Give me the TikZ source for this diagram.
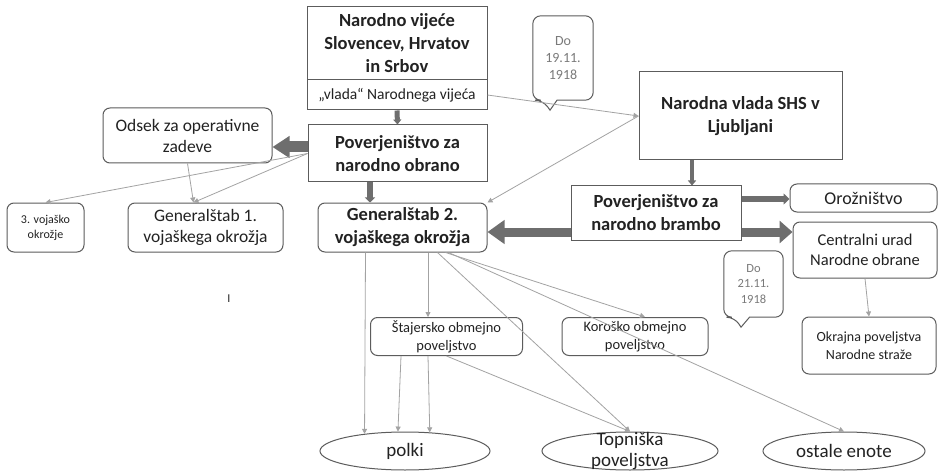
\documentclass[tikz,border=0pt]{standalone}
\usepackage{fontspec}
\setmainfont{Carlito}
\usetikzlibrary{arrows.meta,shapes.geometric}
\definecolor{boxgray}{HTML}{5C5C5C}
\definecolor{linegray}{HTML}{A3A3A3}
\definecolor{fatgray}{HTML}{6E6E6E}
\definecolor{textgray}{HTML}{222222}
\definecolor{notegray}{HTML}{7A7A7A}
\begin{document}
\begin{tikzpicture}[x=1pt, y=-1pt,
    box/.style={draw=boxgray, line width=1pt, text=textgray, align=center, inner sep=1pt},
    rbox/.style={box, rounded corners=7pt},
    oval/.style={ellipse, draw=boxgray, line width=1pt, text=textgray, inner sep=0pt},
    note/.style={text=notegray, align=center, inner sep=0pt},
    notebox/.style={draw=boxgray, line width=1pt},
    link/.style={draw=linegray, line width=0.8pt, -{Triangle[length=5pt,width=5pt]}},
    fat/.style={draw=fatgray, line width=#1},
    headfont/.style={font=\fontsize{18.5}{23}\selectfont\bfseries},
    mainfont/.style={font=\fontsize{17.5}{21}\selectfont},
    smallfont/.style={font=\fontsize{14.5}{18}\selectfont},
    ovalfont/.style={font=\fontsize{19}{21}\selectfont}]
    % page
    \fill[white] (0,0) rectangle (939,473);
    \useasboundingbox (0,0) rectangle (939,473);
    % top of the chart
    \node[box, headfont, minimum width=180pt, minimum height=73pt] (vijece) at (397,43.5)
        {Narodno vijeće\\Slovencev, Hrvatov\\in Srbov};
    \node[box, font=\fontsize{15.5}{18}\selectfont, minimum width=180pt, minimum height=30pt] (vlada) at (397,95)
        {„vlada“ Narodnega vijeća};
    \node[box, headfont, minimum width=203pt, minimum height=88pt] (vladashs) at (740.5,116)
        {Narodna vlada SHS v\\Ljubljani};
    % callouts
    \node[note, font=\fontsize{14}{17}\selectfont, minimum width=60pt, minimum height=84pt] (do19) at (563,58)
        {Do\\19.11.\\1918};
    \draw[notebox] ([xshift=-6pt]do19.south) [rounded corners=8pt] -- (do19.south east) -- (do19.north east)
        -- (do19.north west) -- (do19.south west) -- ([xshift=-20pt]do19.south) [sharp corners]
        -- ([xshift=-13pt,yshift=-10pt]do19.south) -- cycle;
    \node[note, font=\fontsize{12.5}{15.5}\selectfont, minimum width=59pt, minimum height=66pt] (do21) at (753.5,284)
        {Do\\21.11.\\1918};
    \draw[notebox] ([xshift=-4pt]do21.south) [rounded corners=8pt] -- (do21.south east) -- (do21.north east)
        -- (do21.north west) -- (do21.south west) -- ([xshift=-19pt]do21.south) [sharp corners]
        -- ([xshift=-12.5pt,yshift=-10pt]do21.south) -- cycle;
    % second row
    \node[rbox, mainfont, minimum width=169pt, minimum height=55pt] (odsek) at (187.5,135.5)
        {Odsek za operativne\\zadeve};
    \node[box, headfont, minimum width=179pt, minimum height=57pt] (obrano) at (397.5,153.5)
        {Poverjeništvo za\\narodno obrano};
    \node[box, headfont, minimum width=170pt, minimum height=54pt] (brambo) at (656,213)
        {Poverjeništvo za\\narodno brambo};
    \node[rbox, font=\fontsize{18}{21}\selectfont, minimum width=147pt, minimum height=28pt] (oroz) at (863.5,198)
        {Orožništvo};
    \node[rbox, font=\fontsize{16.5}{20}\selectfont, minimum width=144pt, minimum height=56pt] (centralni) at (865,250)
        {Centralni urad\\Narodne obrane};
    % general staffs
    \node[rbox, font=\fontsize{12}{15}\selectfont, minimum width=77pt, minimum height=49pt] (okrozje) at (45.5,227.5)
        {3. vojaško\\okrožje};
    \node[rbox, mainfont, minimum width=155pt, minimum height=49pt] (gen1) at (205.5,227.5)
        {Generalštab 1.\\vojaškega okrožja};
    \node[rbox, headfont, minimum width=169pt, minimum height=49pt] (gen2) at (402.5,227.5)
        {Generalštab 2.\\vojaškega okrožja};
    \node[text=textgray, font=\fontsize{12}{14}\selectfont, inner sep=0pt] (stray) at (229,299) {I};
    % border commands
    \node[rbox, smallfont, minimum width=152pt, minimum height=38pt] (stajer) at (446.5,336.5)
        {Štajersko obmejno\\poveljstvo};
    \node[rbox, smallfont, minimum width=146pt, minimum height=38pt] (korosko) at (635,336.5)
        {Koroško obmejno\\poveljstvo};
    \node[rbox, font=\fontsize{14}{18.5}\selectfont, minimum width=134pt, minimum height=57pt] (okrajna) at (869,345.5)
        {Okrajna poveljstva\\Narodne straže};
    % units
    \node[oval, ovalfont, minimum width=170pt, minimum height=38pt] (polki) at (405,451) {polki};
    \node[oval, minimum width=176pt, minimum height=38pt,
        label={[ovalfont, text=textgray, align=center, inner sep=0pt]center:Topniška\\poveljstva}] (topniska) at (630,451) {};
    \node[oval, ovalfont, minimum width=162pt, minimum height=38pt] (ostale) at (844,451) {ostale enote};
    % thick links
    \draw[fat=5pt, -{Triangle[length=5pt,width=8pt]}] (vlada.south) -- (obrano.north);
    \draw[fat=11pt, -{Triangle[length=17pt,width=21pt]}] ([yshift=6.5pt]obrano.west) -- ([yshift=6.5pt]obrano.west -| odsek.east);
    \draw[fat=6pt, -{Triangle[length=5pt,width=10pt]}] ([xshift=-27.5pt]obrano.south) -- ([xshift=-27.5pt]obrano.south |- gen2.north);
    \draw[fat=4pt, -{Triangle[length=5pt,width=8pt]}] ([xshift=-48.5pt]vladashs.south) -- ([xshift=-48.5pt]vladashs.south |- brambo.north);
    \draw[fat=9pt, -{Triangle[length=17pt,width=23pt]}] ([yshift=-19pt]brambo.west) -- ([yshift=-19pt]brambo.west -| gen2.east);
    \draw[fat=9pt, -{Triangle[length=13pt,width=22pt]}] ([yshift=-19pt]brambo.east) -- ([yshift=-19pt]brambo.east -| centralni.west);
    \draw[fat=5pt, -{Triangle[length=6pt,width=11pt]}] ([yshift=14pt]brambo.east) -- ([yshift=14pt]brambo.east -| oroz.west);
    % thin links
    \draw[link] (vlada.east) -- (vladashs.west);
    \draw[link] (vladashs.west) -- (gen2.north east);
    \draw[link] (obrano.west) -- (okrozje.north);
    \draw[link] (obrano.west) -- ([xshift=-12pt]gen1.north);
    \draw[link] (odsek.south) -- ([xshift=-12pt]gen1.north);
    \draw[link] (centralni.south) -- (okrajna.north);
    \draw[link] ([xshift=-37pt]gen2.south) -- (polki.157);
    \draw[link] ([xshift=25.5pt]gen2.south) -- ([xshift=25.5pt]gen2.south |- stajer.north);
    \draw[link] ([xshift=35pt]gen2.south) -- (topniska.north);
    \draw[link] ([xshift=43pt]gen2.south) -- ([xshift=10pt]korosko.north);
    \draw[link] ([xshift=46pt]gen2.south) -- (ostale.north);
    \draw[link] ([xshift=-45.5pt]stajer.south) -- (polki.110);
    \draw[link] ([xshift=-18.5pt]stajer.south) -- (polki.37);
    \draw[link] (stajer.south) -- (topniska.north);
\end{tikzpicture}
\end{document}
